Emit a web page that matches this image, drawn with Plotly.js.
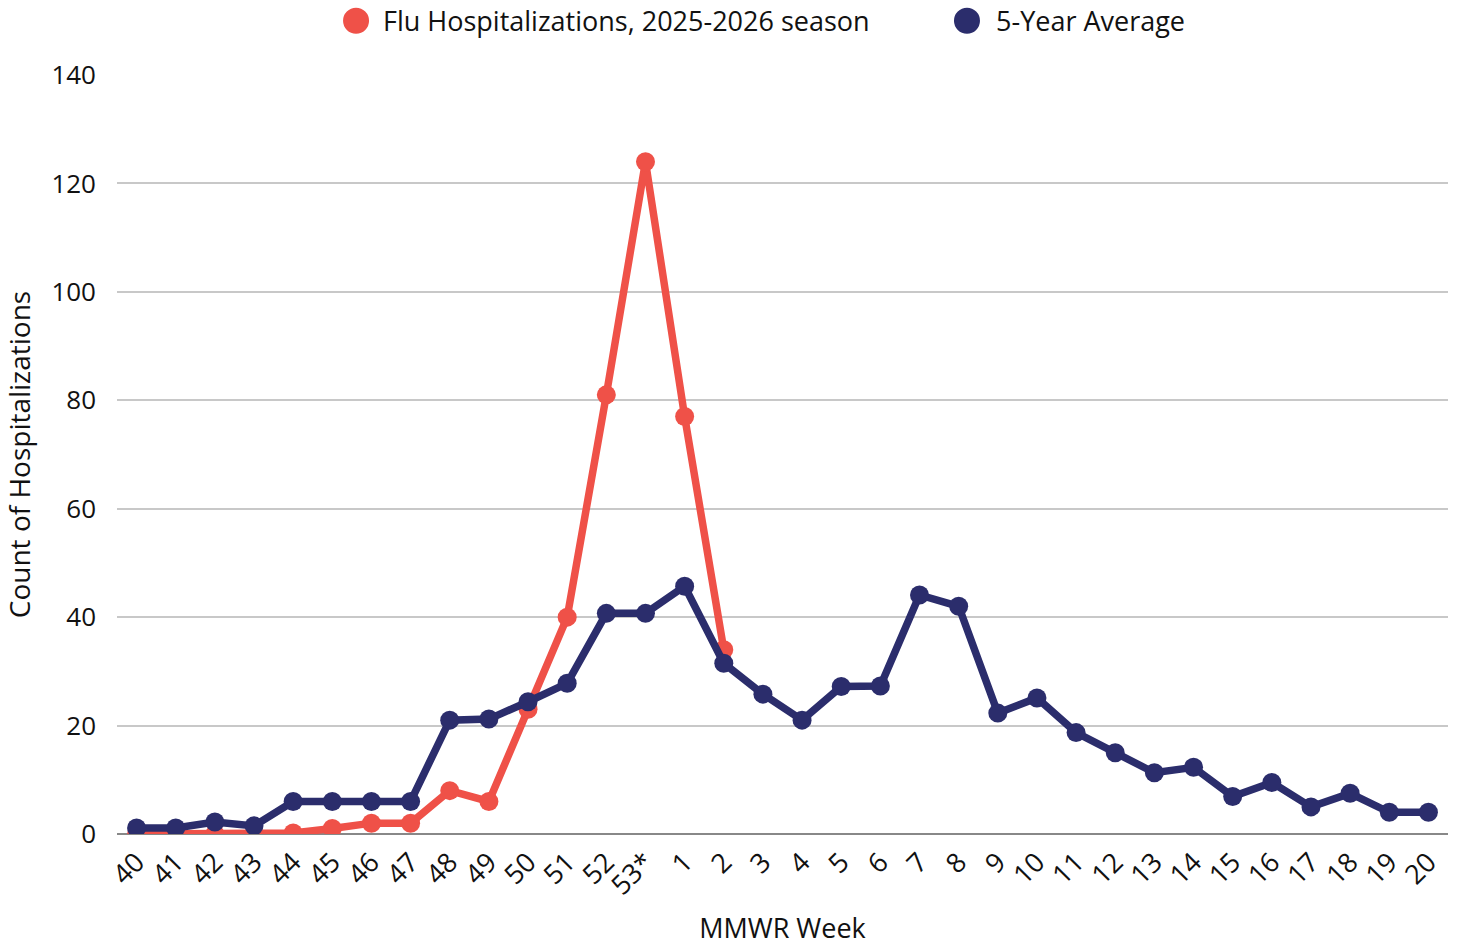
<!DOCTYPE html>
<html>
<head>
<meta charset="utf-8">
<script src="https://cdn.plot.ly/plotly-3.0.1.min.js"></script>
<style>
html,body{margin:0;padding:0;background:#fff;}
#chart{width:1457px;height:946px;}
</style>
</head>
<body>
<div id="chart"></div>
<script>
const weeks = ["40","41","42","43","44","45","46","47","48","49","50","51","52","53*","1","2","3","4","5","6","7","8","9","10","11","12","13","14","15","16","17","18","19","20"];
const fluSeason = [0,0,0,0,0.2,1,2,2,8,6,23,40,81,124,77,34];
const fiveYearAvg = [1.1,1.1,2.2,1.5,6,6,6,6,21,21.2,24.4,27.8,40.7,40.7,45.7,31.5,25.8,21,27.2,27.3,44.1,42,22.3,25.1,18.7,15,11.3,12.3,6.9,9.5,5,7.5,4,4];
const seriesNames = ["Flu Hospitalizations, 2025-2026 season","5-Year Average"];
const colors = ["#EF5148","#2B2D6C"];

const font = "Open Sans, Lato, sans-serif";
const traces = [
  {x: weeks.slice(0, fluSeason.length), y: fluSeason, type:"scatter", mode:"lines+markers",
   line:{color:colors[0], width:7.5}, marker:{color:colors[0], size:19}, showlegend:false, name:seriesNames[0]},
  {x: weeks, y: fiveYearAvg, type:"scatter", mode:"lines+markers",
   line:{color:colors[1], width:7.5}, marker:{color:colors[1], size:19}, showlegend:false, name:seriesNames[1]}
];

// legend built from circles + text (positions in paper fractions)
const legendX = [0.1796, 0.6386];
const legendTextX = [0.1991, 0.6597];
const legendY = 1.0715;
const shapes = seriesNames.map((n, i) => ({
  type:"circle", xref:"paper", yref:"paper", xsizemode:"pixel", ysizemode:"pixel",
  xanchor:legendX[i], yanchor:legendY, x0:-13, x1:13, y0:-13, y1:13,
  fillcolor:colors[i], line:{width:0}
}));
const annotations = seriesNames.map((n, i) => ({
  text:n, xref:"paper", yref:"paper", x:legendTextX[i], y:legendY, xanchor:"left", yanchor:"middle",
  showarrow:false, font:{size:27, color:"#111", family:font}, borderpad:0
}));

const layout = {
  width:1457, height:946,
  margin:{l:117, r:9, t:75, b:112},
  paper_bgcolor:"#fff", plot_bgcolor:"#fff",
  font:{family:font, color:"#111", size:26},
  showlegend:false,
  shapes:shapes, annotations:annotations,
  xaxis:{type:"category", categoryorder:"array", categoryarray:weeks, range:[-0.5, weeks.length-0.5],
    tickangle:-45, showgrid:false, zeroline:false, showline:false, ticks:"",
    tickfont:{size:27, color:"#111"}, ticklabelstandoff:6,
    title:{text:"MMWR Week", font:{size:27, color:"#111"}, standoff:24}},
  yaxis:{range:[0,140], dtick:20, showgrid:true, gridcolor:"#c8c8c8", gridwidth:2,
    zeroline:true, zerolinecolor:"#888", zerolinewidth:2, showline:false, ticks:"",
    tickfont:{size:26, color:"#111"}, ticklabelstandoff:20,
    title:{text:"Count of Hospitalizations", font:{size:28, color:"#111"}, standoff:20}}
};
Plotly.newPlot("chart", traces, layout, {displayModeBar:false, staticPlot:true});
</script>
</body>
</html>
